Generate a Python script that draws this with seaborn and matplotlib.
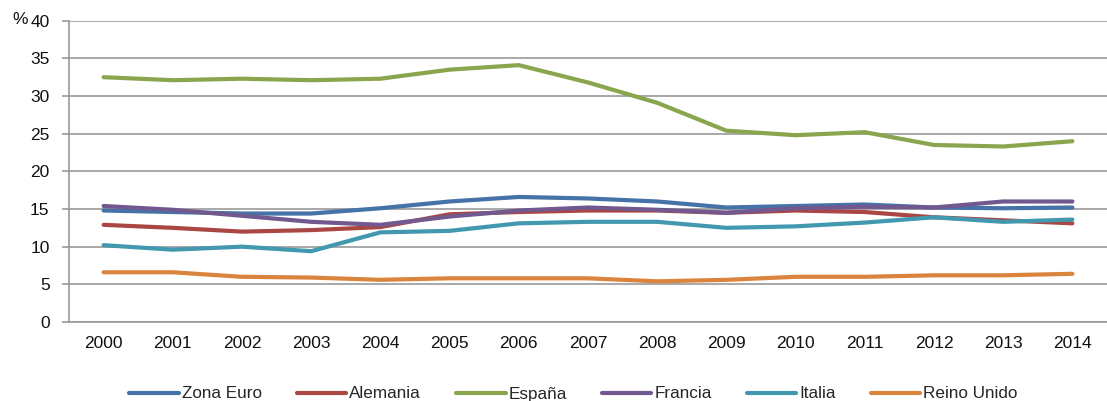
import numpy as np
import pandas as pd
import matplotlib
matplotlib.use("Agg")
import matplotlib.pyplot as plt
import seaborn as sns

# datos (%)
years = list(range(2000, 2015))
zona_euro = [14.8, 14.6, 14.4, 14.4, 15.1, 16.0, 16.6, 16.4, 16.0, 15.2, 15.4, 15.6, 15.2, 15.1, 15.2]
alemania = [12.9, 12.5, 12.0, 12.2, 12.6, 14.3, 14.6, 14.8, 14.8, 14.5, 14.8, 14.6, 13.9, 13.5, 13.1]
espana = [32.5, 32.1, 32.3, 32.1, 32.3, 33.5, 34.1, 31.8, 29.1, 25.4, 24.8, 25.2, 23.5, 23.3, 24.0]
francia = [15.4, 14.9, 14.1, 13.3, 12.9, 14.0, 14.8, 15.2, 14.9, 14.5, 15.1, 15.3, 15.2, 16.0, 16.0]
italia = [10.2, 9.6, 10.0, 9.4, 11.9, 12.1, 13.1, 13.3, 13.3, 12.5, 12.7, 13.2, 13.9, 13.3, 13.6]
reino_unido = [6.6, 6.6, 6.0, 5.9, 5.6, 5.8, 5.8, 5.8, 5.4, 5.6, 6.0, 6.0, 6.2, 6.2, 6.4]

series = {
    "Zona Euro": zona_euro,
    "Alemania": alemania,
    "España": espana,
    "Francia": francia,
    "Italia": italia,
    "Reino Unido": reino_unido,
}
colores = ["#4572A7", "#AA4643", "#89A54E", "#71588F", "#4198AF", "#DB843D"]

filas = []
for nombre, vals in series.items():
    for i, v in enumerate(vals):
        filas.append({"pos": i, "serie": nombre, "valor": v})
df = pd.DataFrame(filas)

sns.set_style("white")
plt.rcParams["font.family"] = ["Liberation Sans", "DejaVu Sans"]

fig = plt.figure(figsize=(11.07, 4.01), dpi=100)
ax = fig.add_axes([69 / 1107, 79 / 401, (1107 - 69) / 1107, 301.3 / 401])

sns.lineplot(data=df, x="pos", y="valor", hue="serie", palette=colores,
             linewidth=3, ax=ax, legend=True)
for ln in ax.get_lines():
    ln.set_solid_capstyle("round")

ax.set_xlim(-0.5, 14.33)
ax.set_ylim(0, 40)
ax.set_yticks(range(0, 41, 5))
ax.yaxis.grid(True, color="#9a9a9a", linewidth=1.2)
ax.set_axisbelow(True)

# ticks en los limites de categoria, etiquetas centradas
ax.set_xticks(np.arange(-0.5, 15, 1))
ax.set_xticklabels([])
ax.set_xticks(range(15), minor=True)
ax.set_xticklabels([str(y) for y in years], minor=True)
ax.tick_params(axis="x", which="major", length=5, color="#9a9a9a", width=1.2, direction="out")
ax.tick_params(axis="x", which="minor", length=0, pad=10, labelsize=12.5, labelcolor="#111111")
ax.tick_params(axis="y", length=5, color="#9a9a9a", width=1.2, pad=9, labelsize=12.5, labelcolor="#111111", left=True)
ax.set_xlabel("")
ax.set_ylabel("")

for s in ["top", "right"]:
    ax.spines[s].set_visible(False)
for s in ["left", "bottom"]:
    ax.spines[s].set_color("#9a9a9a")
    ax.spines[s].set_linewidth(1.2)

fig.text(12 / 1107, 1 - 20 / 401, "%", fontsize=12.5, va="center", ha="left", color="#111111")

handles, labels = ax.get_legend_handles_labels()
ax.legend(handles, labels, loc="center", bbox_to_anchor=(0.486, (401 - 394 - 79) / 301.3),
          ncol=6, frameon=False, fontsize=12.3, handlelength=2.9, columnspacing=2.05,
          handletextpad=0.17, borderpad=0)

fig.savefig("out.png", dpi=100)
